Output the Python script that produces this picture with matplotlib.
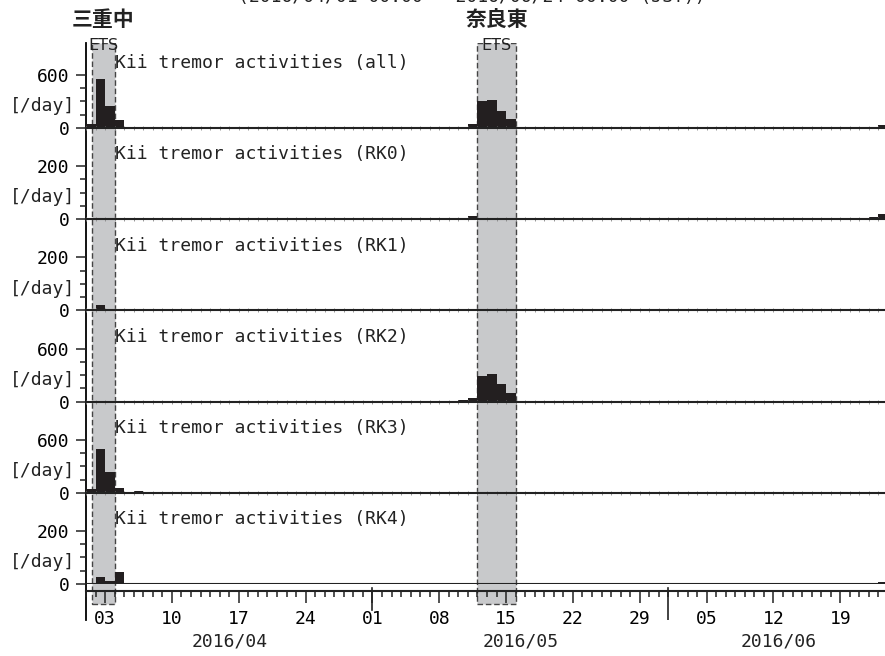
import matplotlib
matplotlib.use("Agg")
import matplotlib.pyplot as plt
import matplotlib.dates as mdates
from datetime import datetime, timedelta

start = datetime(2016, 4, 1)
end = datetime(2016, 6, 24)
title = "(2016/04/01 00:00 - 2016/06/24 00:00 (JST))"

panel_names = ["all", "RK0", "RK1", "RK2", "RK3", "RK4"]
panel_ticks = [600, 200, 200, 600, 600, 200]

# daily counts [/day], only the days with something on them
all_days = ["04-01", "04-02", "04-03", "04-04", "04-05", "04-06", "04-15", "04-22",
            "05-10", "05-11", "05-12", "05-13", "05-14", "05-15", "05-17", "05-27",
            "06-08", "06-09", "06-22", "06-23"]
all_vals = [40, 553, 247, 94, 6, 5, 4, 5,
            12, 40, 300, 313, 188, 98, 4, 4,
            4, 4, 12, 35]

rk0_days = ["04-16", "04-22", "05-11", "06-22", "06-23"]
rk0_vals = [2, 3, 12, 9, 19]

rk1_days = ["04-02", "04-06", "04-22", "05-11"]
rk1_vals = [19, 3, 3, 3]

rk2_days = ["05-10", "05-11", "05-12", "05-13", "05-14", "05-15"]
rk2_vals = [19, 38, 290, 313, 196, 94]

rk3_days = ["04-01", "04-02", "04-03", "04-04", "04-06"]
rk3_vals = [38, 500, 237, 49, 15]

rk4_days = ["04-01", "04-02", "04-03", "04-04", "04-05", "04-15",
            "05-17", "05-27", "06-08", "06-09", "06-23"]
rk4_vals = [3, 28, 13, 44, 5, 3, 4, 4, 4, 4, 6]

series = [(all_days, all_vals), (rk0_days, rk0_vals), (rk1_days, rk1_vals),
          (rk2_days, rk2_vals), (rk3_days, rk3_vals), (rk4_days, rk4_vals)]

# ETS windows and station names
ets_start = [datetime(2016, 4, 1, 14), datetime(2016, 5, 12)]
ets_end = [datetime(2016, 4, 4), datetime(2016, 5, 16)]
ets_names = ["三重中", "奈良東"]

mono = "DejaVu Sans Mono"
cjk = ["Noto Sans CJK JP", "DejaVu Sans"]
W, H = 885, 656

fig = plt.figure(figsize=(8.85, 6.56), dpi=100)

left = 86 / W
width = (888 - 86) / W

# background axes: left spine, ETS boxes, month lines
bg = fig.add_axes([left, 1 - 620 / H, width, 577 / H], zorder=0)
bg.set_xlim(start, end)
bg.set_ylim(0, 1)
bg.patch.set_visible(False)
for s in ["top", "right", "bottom"]:
    bg.spines[s].set_visible(False)
bg.spines["left"].set_linewidth(1.3)
bg.set_xticks([])
bg.set_yticks([])
box_lo = (620 - 604) / 577
for s0, s1, name in zip(ets_start, ets_end, ets_names):
    bg.axvspan(s0, s1, ymin=box_lo, ymax=1.0, facecolor="#c8c9cb",
               edgecolor="#444444", linestyle=(0, (4, 2)), linewidth=1)
    mid = s0 + (s1 - s0) / 2
    bg.text(mid, (620 - 45) / 577, "ETS", ha="center", va="center",
            fontsize=11.5, family="DejaVu Sans", color="#222222")
    bg.text(mid, (620 - 19) / 577, name, ha="center", va="center",
            fontsize=15, family=cjk, fontweight="bold", color="#222222",
            clip_on=False)
bg.axvline(datetime(2016, 5, 1), ymin=(620 - 610) / 577, ymax=(620 - 588) / 577,
           color="#222222", lw=1.2)
bg.axvline(datetime(2016, 6, 1), ymin=0, ymax=(620 - 588) / 577,
           color="#222222", lw=1.2)

ph = 91.2
axes = []
for i, name in enumerate(panel_names):
    y0 = 128 + ph * i
    ax = fig.add_axes([left, 1 - y0 / H, width, ph / H], zorder=1)
    ax.patch.set_visible(False)
    days, vals = series[i]
    dates = [datetime.strptime("2016-" + d, "%Y-%m-%d") for d in days]
    ax.bar(dates, vals, width=1.0, align="edge", color="#231f20", linewidth=0)
    top = panel_ticks[i]
    ax.set_xlim(start, end)
    ax.set_ylim(0, top * 1.72)
    for s in ["top", "right", "left"]:
        ax.spines[s].set_visible(False)
    ax.spines["bottom"].set_linewidth(1.5)
    ax.spines["bottom"].set_color("#222222")
    ax.set_yticks([0, top])
    ax.set_yticklabels(["0", str(top)])
    ax.set_yticks([top / 4 * k for k in range(1, 4)], minor=True)
    ax.tick_params(axis="y", which="major", length=7, width=1.1, pad=5,
                   labelsize=13, color="#222222")
    ax.tick_params(axis="y", which="minor", length=4, width=1.1, color="#222222")
    for lab in ax.get_yticklabels():
        lab.set_family(mono)
    ax.xaxis.set_minor_locator(mdates.DayLocator())
    ax.xaxis.set_major_locator(mdates.DayLocator())
    ax.tick_params(axis="x", which="both", direction="inout", length=3,
                   width=0.6, color="#888888", labelbottom=False)
    ax.text(-0.014, top * 0.41, "[/day]", transform=ax.get_yaxis_transform(),
            ha="right", va="center", fontsize=13, family=mono, color="#222222")
    ax.text(0.036, 0.71, "Kii tremor activities (%s)" % name, transform=ax.transAxes,
            ha="left", va="center", fontsize=13, family=mono, color="#222222")
    axes.append(ax)

# time axis on the last panel
ax = axes[-1]
ax.axhline(0, color="#222222", lw=1.5)
ax.spines["bottom"].set_position(("outward", 5))
ax.xaxis.set_major_locator(mdates.WeekdayLocator(byweekday=mdates.SU))
ax.xaxis.set_major_formatter(mdates.DateFormatter("%d"))
ax.xaxis.set_minor_locator(mdates.DayLocator())
ax.tick_params(axis="x", which="major", direction="out", length=8.5, width=1.1,
               color="#222222", labelbottom=True, labelsize=13, pad=5)
ax.tick_params(axis="x", which="minor", direction="out", length=4.3, width=1.1,
               color="#222222")
for lab in ax.get_xticklabels():
    lab.set_family(mono)

# month labels centred on visible part of each month
months = [datetime(2016, 4, 1), datetime(2016, 5, 1), datetime(2016, 6, 1)]
month_ends = [datetime(2016, 5, 1), datetime(2016, 6, 1), end]
for m0, m1 in zip(months, month_ends):
    mid = m0 + (m1 - m0) / 2
    bg.text(mid, (620 - 641) / 577, m0.strftime("%Y/%m"), ha="center", va="center",
            fontsize=13, family=mono, color="#222222", clip_on=False)

# header line, partly above the top edge as in the source figure
fig.text(472 / W, 1.004, title, ha="center", va="center", fontsize=13,
         family=mono, color="#222222")

fig.savefig("out.png", dpi=100)
